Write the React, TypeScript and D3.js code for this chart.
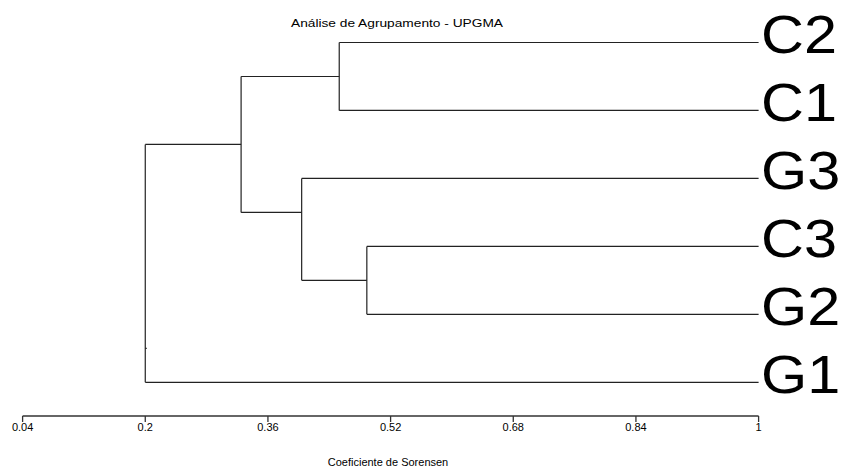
import React from "react";
import * as d3 from "d3";

// Leaves in display order (top to bottom)
const leaves = ["C2", "C1", "G3", "C3", "G2", "G1"];

// UPGMA merges: children (leaf names or earlier merge ids) and Sorensen similarity
const mergeIds = ["m1", "m2", "m3", "m4", "m5"];
const mergeChildren: [string, string][] = [
  ["C2", "C1"],
  ["C3", "G2"],
  ["G3", "m2"],
  ["m1", "m3"],
  ["m4", "G1"],
];
const mergeSimilarity = [0.453, 0.489, 0.404, 0.325, 0.2];

// Axis ticks
const tickValues = [0.04, 0.2, 0.36, 0.52, 0.68, 0.84, 1];
const tickLabels = ["0.04", "0.2", "0.36", "0.52", "0.68", "0.84", "1"];

const W = 841;
const H = 466;

const x = d3.scaleLinear().domain([0.04, 1]).range([22.6, 758.6]);
const y = d3.scaleLinear().domain([0, leaves.length - 1]).range([42.5, 382.3]);

type Node = { id: string; sim: number; first: number; last: number; pos: number; children?: [string, string] };

function buildNodes() {
  const nodes = new Map<string, Node>();
  leaves.forEach((name, i) => nodes.set(name, { id: name, sim: 1, first: i, last: i, pos: i }));
  mergeIds.forEach((id, k) => {
    const [a, b] = mergeChildren[k];
    const na = nodes.get(a)!;
    const nb = nodes.get(b)!;
    // branch sits in the gap between the two child clusters
    const pos = (na.last + nb.first) / 2;
    nodes.set(id, {
      id,
      sim: mergeSimilarity[k],
      first: Math.min(na.first, nb.first),
      last: Math.max(na.last, nb.last),
      pos,
      children: [a, b],
    });
  });
  return nodes;
}

export default function App() {
  const nodes = buildNodes();
  const segs: { x1: number; y1: number; x2: number; y2: number; key: string }[] = [];
  mergeIds.forEach((id) => {
    const n = nodes.get(id)!;
    const [a, b] = n.children!;
    const na = nodes.get(a)!;
    const nb = nodes.get(b)!;
    const xn = x(n.sim);
    segs.push({ key: id + "v", x1: xn, y1: y(na.pos), x2: xn, y2: y(nb.pos) });
    segs.push({ key: id + "a", x1: xn, y1: y(na.pos), x2: x(na.sim), y2: y(na.pos) });
    segs.push({ key: id + "b", x1: xn, y1: y(nb.pos), x2: x(nb.sim), y2: y(nb.pos) });
  });
  const root = nodes.get(mergeIds[mergeIds.length - 1])!;
  const axisY = 416;

  return (
    <svg width={W} height={H} style={{ position: "absolute", left: 0, top: 0, background: "#fff" }}
      fontFamily="'Liberation Sans', Arial, sans-serif">
      <text x={291} y={27} fontSize={11.8} textLength={212} lengthAdjust="spacingAndGlyphs" fill="#000">
        Análise de Agrupamento - UPGMA
      </text>
      <g stroke="#222" strokeWidth={1.2} fill="none">
        {segs.map((s) => (
          <line key={s.key} x1={s.x1} y1={s.y1} x2={s.x2} y2={s.y2} />
        ))}
        <line x1={x(root.sim)} y1={y(root.pos)} x2={x(root.sim) + 1.5} y2={y(root.pos)} />
      </g>
      {leaves.map((name, i) => (
        <text key={name} transform={`translate(761,${y(i) + 10.5}) scale(1.1,1)`} fontSize={54} fill="#000">
          {name}
        </text>
      ))}
      <g stroke="#333" strokeWidth={1.3}>
        <line x1={x(0.04)} y1={axisY} x2={x(1)} y2={axisY} />
        {tickValues.map((t) => (
          <line key={t} x1={x(t)} y1={axisY} x2={x(t)} y2={axisY + 6} />
        ))}
      </g>
      {tickValues.map((t, i) => (
        <text key={t} x={x(t)} y={430.5} fontSize={11} textAnchor="middle" fill="#000">
          {tickLabels[i]}
        </text>
      ))}
      <text x={388} y={465.5} fontSize={11} textAnchor="middle" fill="#000">
        Coeficiente de Sorensen
      </text>
    </svg>
  );
}
